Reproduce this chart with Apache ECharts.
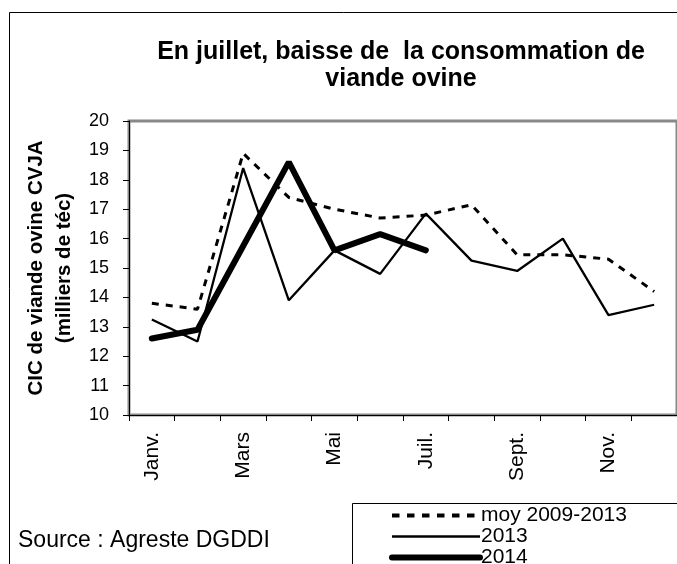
<!DOCTYPE html>
<html lang="fr" style="height: 100%">
<head>
  <meta charset="utf-8">
</head>
<body style="height: 100%; margin: 0; background: #fff">
  <div id="container" style="width: 677px; height: 564px"></div>

  <script type="text/javascript" src="https://fastly.jsdelivr.net/npm/echarts@6/dist/echarts.min.js"></script>
  <script type="text/javascript">
    // mois
    const months = ['Janv.', 'Févr.', 'Mars', 'Avr.', 'Mai', 'Juin', 'Juil.', 'Août', 'Sept.', 'Oct.', 'Nov.', 'Déc.'];
    // CIC viande ovine, milliers de téc
    const moy2009_2013 = [13.8, 13.6, 18.9, 17.4, 17.0, 16.7, 16.8, 17.15, 15.45, 15.45, 15.3, 14.2];
    const y2013 = [13.25, 12.5, 18.4, 13.9, 15.6, 14.8, 16.85, 15.25, 14.9, 16.0, 13.4, 13.75];
    const y2014 = [12.6, 12.9, 15.75, 18.6, 15.6, 16.15, 15.6];

    var dom = document.getElementById('container');
    var myChart = echarts.init(dom, null, { renderer: 'canvas' });
    var font = 'Liberation Sans, Arial, sans-serif';

    var option = {
      animation: false,
      backgroundColor: '#fff',
      color: ['#000', '#000', '#000'],
      textStyle: { fontFamily: font, color: '#000' },
      title: {
        text: 'En juillet, baisse de  la consommation de\nviande ovine',
        left: 396,
        top: 34,
        textAlign: 'center',
        textStyle: { fontSize: 25, fontWeight: 'bold', lineHeight: 27, fontFamily: font, color: '#000' }
      },
      legend: {
        data: [
          { name: 'moy 2009-2013', lineStyle: { color: '#000', width: 4, type: [7.5, 7.5] } },
          { name: '2013', lineStyle: { color: '#000', width: 2.5, type: 'solid' } },
          { name: '2014', lineStyle: { color: '#000', width: 6, type: 'solid', cap: 'round' } }
        ],
        orient: 'vertical',
        left: 389,
        top: 505,
        height: 90,
        itemWidth: 88,
        itemHeight: 12,
        itemGap: 0,
        padding: 0,
        itemStyle: { opacity: 0 },
        textStyle: { fontSize: 21, lineHeight: 18.5, fontFamily: font, color: '#000', padding: [0, 0, 0, -4] }
      },
      graphic: [
        { type: 'rect', left: 7, top: 10, shape: { width: 700, height: 600 }, style: { fill: 'none', stroke: '#000', lineWidth: 1 }, silent: true },
        { type: 'rect', left: 350, top: 501, shape: { width: 400, height: 100 }, style: { fill: 'none', stroke: '#000', lineWidth: 1 }, silent: true },
        { type: 'text', left: 18, top: 529, style: { text: 'Source : Agreste DGDDI', fontSize: 23, fontFamily: font, fill: '#000' } }
      ],
      grid: {
        left: 129,
        right: 0,
        top: 121,
        bottom: 149,
        show: true,
        borderColor: '#888',
        borderWidth: 3,
        containLabel: false
      },
      xAxis: {
        type: 'category',
        data: months,
        boundaryGap: true,
        axisLine: { lineStyle: { color: '#000', width: 1 } },
        axisTick: { show: true, interval: 0, length: 6, lineStyle: { color: '#000' } },
        axisLabel: { interval: 1, rotate: 90, fontSize: 21, color: '#000', fontFamily: font, margin: 17 },
        splitLine: { show: false }
      },
      yAxis: {
        type: 'value',
        min: 10,
        max: 20,
        interval: 1,
        name: 'CIC de viande ovine CVJA\n(milliers de téc)',
        nameLocation: 'middle',
        nameRotate: 90,
        nameGap: 51,
        nameTextStyle: { fontSize: 20.5, fontWeight: 'bold', lineHeight: 28, fontFamily: font, color: '#000' },
        axisLine: { show: true, lineStyle: { color: '#000', width: 1 } },
        axisTick: { show: true, length: 6, lineStyle: { color: '#000' } },
        axisLabel: { fontSize: 18, color: '#000', fontFamily: font, margin: 20 },
        splitLine: { show: false }
      },
      series: [
        {
          name: 'moy 2009-2013',
          type: 'line',
          data: moy2009_2013,
          symbol: 'none',
          itemStyle: { color: '#000' },
          lineStyle: { color: '#000', width: 3, type: [7, 7] }
        },
        {
          name: '2013',
          type: 'line',
          data: y2013,
          symbol: 'none',
          itemStyle: { color: '#000' },
          lineStyle: { color: '#000', width: 2.3 }
        },
        {
          name: '2014',
          type: 'line',
          data: y2014,
          symbol: 'none',
          itemStyle: { color: '#000' },
          lineStyle: { color: '#000', width: 6, cap: 'round' }
        }
      ]
    };

    myChart.setOption(option);
    window.addEventListener('resize', myChart.resize);
  </script>
</body>
</html>
